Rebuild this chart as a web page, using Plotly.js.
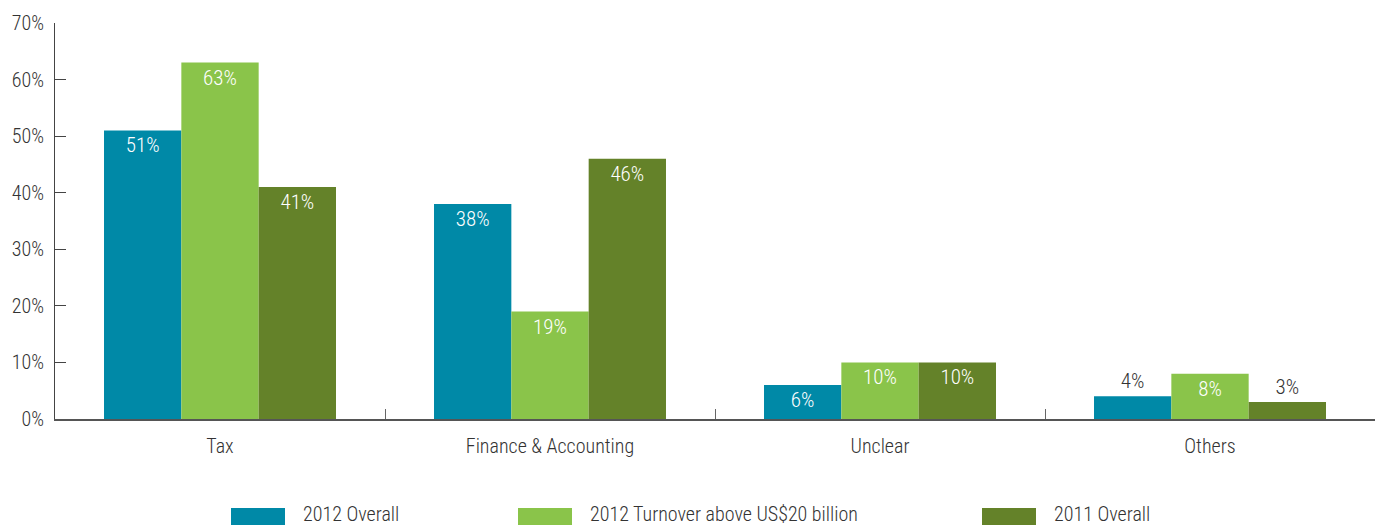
<!DOCTYPE html>
<html>
<head>
<meta charset="utf-8">
<script src="https://cdn.plot.ly/plotly-3.0.1.min.js"></script>
<style>html,body{margin:0;padding:0;background:#fff;}#chart{width:1384px;height:525px;}</style>
</head>
<body>
<div id="chart"></div>
<script>
const categories = ["Tax", "Finance & Accounting", "Unclear", "Others"];
const seriesNames = ["2012 Overall", "2012 Turnover above US$20 billion", "2011 Overall"];
const overall2012 = [51, 38, 6, 4];
const turnover2012 = [63, 19, 10, 8];
const overall2011 = [41, 46, 10, 3];
const yTicks = [0, 10, 20, 30, 40, 50, 60, 70];

const colors = ["#0089A7", "#8AC44A", "#648229"];
const FONT = '"Roboto Condensed", "Roboto", sans-serif';
const FS = 20;
const LFS = 21;
const W = 300;
const seriesValues = [overall2012, turnover2012, overall2011];

const traces = seriesValues.map((vals, i) => ({
  type: "bar",
  name: seriesNames[i],
  x: categories,
  y: vals,
  marker: {color: colors[i], line: {width: 0}},
  text: vals.map(v => v + "%"),
  textposition: vals.map(v => v < 5 ? "outside" : "inside"),
  insidetextanchor: "end",
  textangle: 0,
  insidetextfont: {family: FONT, size: LFS, weight: W, color: "#ffffff"},
  outsidetextfont: {family: FONT, size: LFS, weight: W, color: "#333333"},
  cliponaxis: false,
  hoverinfo: "skip",
  showlegend: false
}));

// legend built from series names
const legendX = [231, 518, 982];
const plotL = 55, plotR = 1375, plotT = 23, plotB = 419;
const px2x = p => (p - plotL) / (plotR - plotL);
const py2y = p => (plotB - p) / (plotB - plotT);
const shapes = [];
const annotations = [];
seriesNames.forEach((n, i) => {
  shapes.push({type: "rect", xref: "paper", yref: "paper",
    x0: px2x(legendX[i]), x1: px2x(legendX[i] + 54),
    y0: py2y(508), y1: py2y(528),
    fillcolor: colors[i], line: {width: 0}});
  annotations.push({xref: "paper", yref: "paper",
    x: px2x(legendX[i] + 70), y: py2y(514),
    xanchor: "left", yanchor: "middle", showarrow: false,
    text: n, font: {family: FONT, size: FS, weight: W, color: "#333333"}});
});

const layout = {
  width: 1384, height: 525,
  margin: {l: plotL, r: 1384 - plotR, t: plotT, b: 525 - plotB},
  paper_bgcolor: "#ffffff", plot_bgcolor: "#ffffff",
  font: {family: FONT, size: FS, weight: W, color: "#333333"},
  barmode: "group",
  bargap: 0.297,
  bargroupgap: 0,
  showlegend: false,
  xaxis: {
    type: "category",
    showline: true, linecolor: "#555555", linewidth: 2,
    ticks: "inside", ticklen: 10, tickcolor: "#666666", tickwidth: 1,
    tickson: "boundaries",
    showgrid: false, zeroline: false,
    tickfont: {family: FONT, size: FS, weight: W, color: "#333333"},
    ticklabelstandoff: 8
  },
  yaxis: {
    range: [0, 70],
    tickvals: yTicks,
    ticktext: yTicks.map(v => v + "%"),
    showline: true, linecolor: "#444444", linewidth: 1,
    ticks: "inside", ticklen: 11, tickcolor: "#444444", tickwidth: 1,
    showgrid: false, zeroline: false,
    tickfont: {family: FONT, size: FS, weight: W, color: "#333333"},
    ticklabelstandoff: 6
  },
  shapes: shapes,
  annotations: annotations
};

Plotly.newPlot("chart", traces, layout, {displayModeBar: false, staticPlot: true});
</script>
</body>
</html>
